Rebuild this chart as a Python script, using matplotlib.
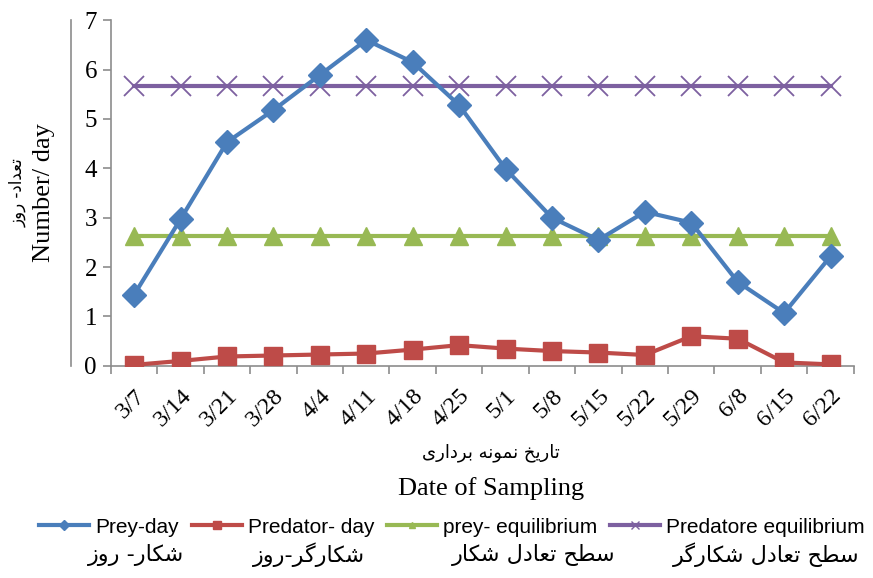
import matplotlib
matplotlib.use("Agg")
import matplotlib.pyplot as plt
from matplotlib.lines import Line2D
import numpy as np

# داده ها
dates = ["3/7", "3/14", "3/21", "3/28", "4/4", "4/11", "4/18", "4/25",
         "5/1", "5/8", "5/15", "5/22", "5/29", "6/8", "6/15", "6/22"]
prey_day = [1.44, 2.97, 4.53, 5.18, 5.89, 6.60, 6.15, 5.28,
            3.99, 3.00, 2.55, 3.12, 2.90, 1.70, 1.07, 2.22]
predator_day = [0.02, 0.10, 0.19, 0.21, 0.23, 0.25, 0.33, 0.42,
                0.35, 0.30, 0.27, 0.22, 0.60, 0.55, 0.07, 0.03]
prey_eq = [2.63] * len(dates)
predator_eq = [5.67] * len(dates)

legend_en = ["Prey-day", "Predator- day", "prey- equilibrium", "Predatore equilibrium"]
legend_fa = ["شکار- روز", "شکارگر-روز", "سطح تعادل شکار", "سطح تعادل شکارگر"]
ylabel_fa = "تعداد- روز"
xlabel_fa = "تاریخ نمونه برداری"

# شکل دهی حروف فارسی (matplotlib خودش این کار را نمی کند)
FORMS = {
    "ا": ("\uFE8D", "\uFE8E", None, None),
    "ب": ("\uFE8F", "\uFE90", "\uFE91", "\uFE92"),
    "ت": ("\uFE95", "\uFE96", "\uFE97", "\uFE98"),
    "ح": ("\uFEA1", "\uFEA2", "\uFEA3", "\uFEA4"),
    "خ": ("\uFEA5", "\uFEA6", "\uFEA7", "\uFEA8"),
    "د": ("\uFEA9", "\uFEAA", None, None),
    "ر": ("\uFEAD", "\uFEAE", None, None),
    "ز": ("\uFEAF", "\uFEB0", None, None),
    "س": ("\uFEB1", "\uFEB2", "\uFEB3", "\uFEB4"),
    "ش": ("\uFEB5", "\uFEB6", "\uFEB7", "\uFEB8"),
    "ط": ("\uFEC1", "\uFEC2", "\uFEC3", "\uFEC4"),
    "ع": ("\uFEC9", "\uFECA", "\uFECB", "\uFECC"),
    "ل": ("\uFEDD", "\uFEDE", "\uFEDF", "\uFEE0"),
    "م": ("\uFEE1", "\uFEE2", "\uFEE3", "\uFEE4"),
    "ن": ("\uFEE5", "\uFEE6", "\uFEE7", "\uFEE8"),
    "ه": ("\uFEE9", "\uFEEA", "\uFEEB", "\uFEEC"),
    "و": ("\uFEED", "\uFEEE", None, None),
    "ی": ("\uFBFC", "\uFBFD", "\uFBFE", "\uFBFF"),
    "ک": ("\uFB8E", "\uFB8F", "\uFB90", "\uFB91"),
    "گ": ("\uFB92", "\uFB93", "\uFB94", "\uFB95"),
}


def shape(text):
    out = []
    for i, ch in enumerate(text):
        if ch not in FORMS:
            out.append(ch)
            continue
        iso, fin, ini, med = FORMS[ch]
        prev = text[i - 1] if i > 0 else ""
        nxt = text[i + 1] if i + 1 < len(text) else ""
        join_prev = prev in FORMS and FORMS[prev][2] is not None
        join_next = ini is not None and nxt in FORMS
        if join_prev and join_next:
            out.append(med)
        elif join_prev:
            out.append(fin)
        elif join_next:
            out.append(ini)
        else:
            out.append(iso)
    return "".join(out)[::-1]


FA = ["DejaVu Sans"]
SERIF = "Liberation Serif"

blue = "#4A7EBB"
red = "#BE4B48"
green = "#98B954"
purple = "#7D60A0"
grey = "#8C8C8C"

fig = plt.figure(figsize=(8.73, 5.78), dpi=100)
ax = fig.add_axes([0.127, 0.367, 0.851, 0.598])

x = np.arange(len(dates))
ax.plot(x, prey_eq, color=green, lw=3, marker="^", ms=13, zorder=2)
ax.plot(x, predator_eq, color=purple, lw=3, marker="x", ms=14, mew=1.3, zorder=2)
ax.plot(x, predator_day, color=red, lw=3, marker="s", ms=13, zorder=3)
ax.plot(x, prey_day, color=blue, lw=3, marker="D", ms=12, zorder=4)

ax.set_xlim(-0.5, len(dates) - 0.5)
ax.set_ylim(0, 7)
ax.set_yticks(range(0, 8))

ax.set_xticks(x)
ax.set_xticklabels(dates, rotation=45, ha="right", rotation_mode="anchor",
                   fontfamily=SERIF, fontsize=17.5)
ax.set_xticks(np.arange(-0.5, len(dates)), minor=True)
ax.tick_params(axis="x", which="major", length=0, pad=14)
ax.tick_params(axis="x", which="minor", length=6, color=grey, width=1.2)
ax.tick_params(axis="y", length=6, color=grey, width=1.2, pad=4)
for lab in ax.get_yticklabels():
    lab.set_fontfamily(SERIF)
    lab.set_fontsize(18)

for s in ["top", "right"]:
    ax.spines[s].set_visible(False)
for s in ["left", "bottom"]:
    ax.spines[s].set_color(grey)
    ax.spines[s].set_linewidth(1.2)

ax.set_ylabel("Number/ day", fontfamily=SERIF, fontsize=19)
ax.yaxis.set_label_coords(-0.075, 0.5)
ax.text(-0.125, 0.5, shape(ylabel_fa), rotation=90, transform=ax.transAxes,
        ha="center", va="center", family=FA, fontsize=12)
ax.plot([-0.054, -0.054], [0, 1], transform=ax.transAxes, color=grey,
        lw=1.2, clip_on=False)

fig.text(0.562, 0.217, shape(xlabel_fa), ha="center", va="center",
         family=FA, fontsize=13)
fig.text(0.562, 0.155, "Date of Sampling", ha="center", va="center",
         fontfamily=SERIF, fontsize=19)

handles = [
    Line2D([], [], color=blue, lw=3, marker="D", ms=5),
    Line2D([], [], color=red, lw=3, marker="s", ms=6),
    Line2D([], [], color=green, lw=3, marker="^", ms=5),
    Line2D([], [], color=purple, lw=3, marker="x", ms=6),
]
fig.legend(handles, legend_en, loc="center", bbox_to_anchor=(0.518, 0.088),
           ncol=4, frameon=False, handlelength=2.4, handletextpad=0.3,
           columnspacing=0.6, prop={"family": "Liberation Sans", "size": 15})

fa_right = [0.211, 0.418, 0.705, 0.985]
for xr, t in zip(fa_right, legend_fa):
    fig.text(xr, 0.04, shape(t), ha="right", va="center", family=FA, fontsize=16)

plt.savefig("out.png", dpi=100)
